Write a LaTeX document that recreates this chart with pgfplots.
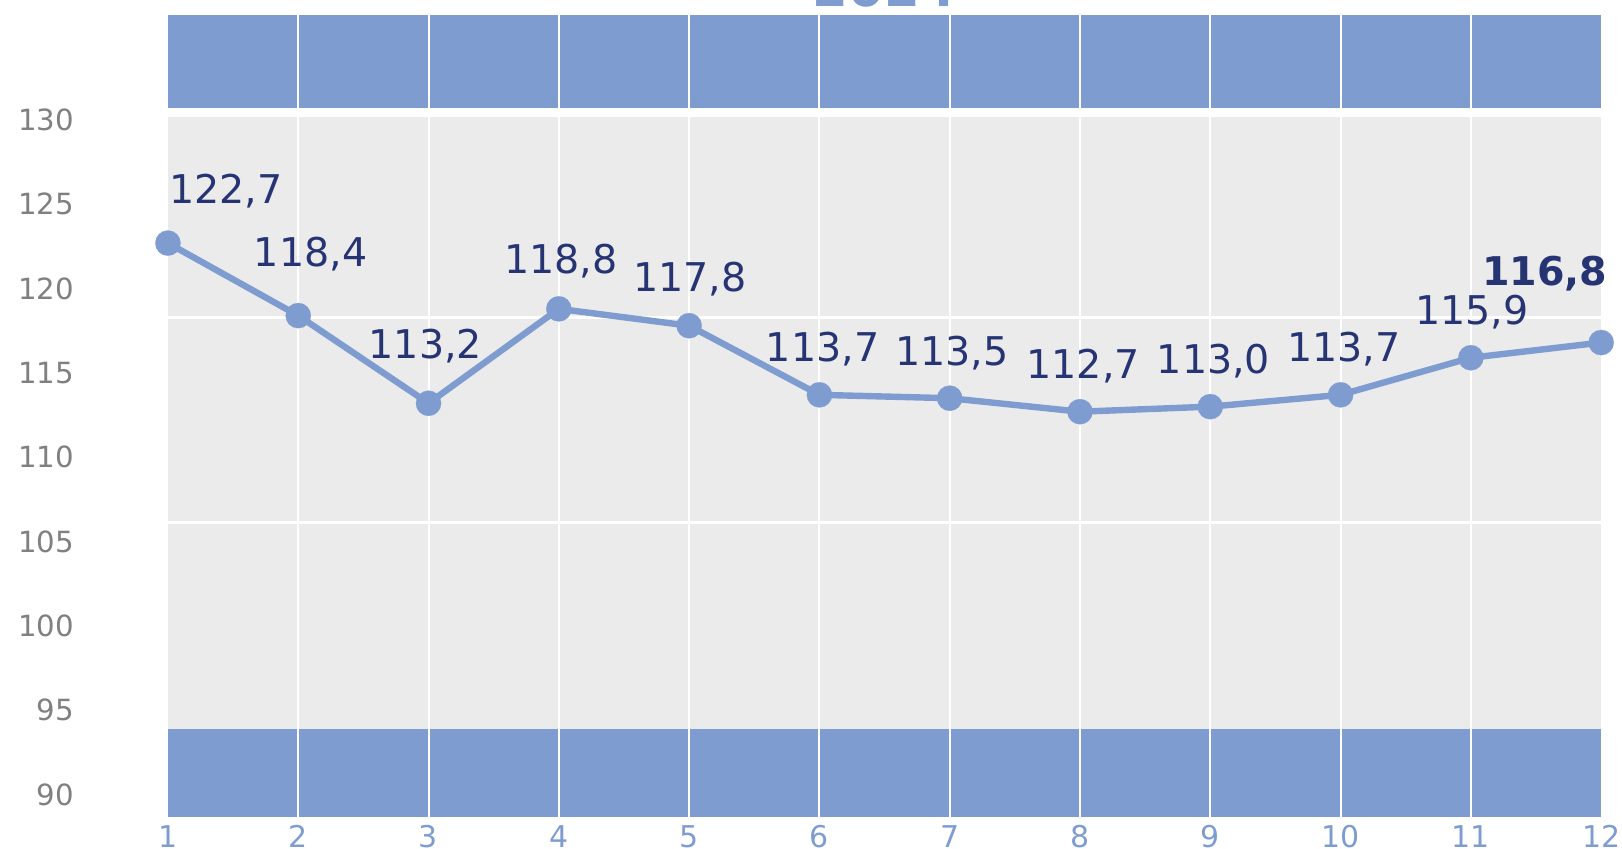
\documentclass[border=0pt]{standalone}
\usepackage{fontspec}
\setmainfont{DejaVu Sans}
\usepackage{pgfplots}
\usepackage{pgfplotstable}
\pgfplotsset{compat=1.18}
\definecolor{band}{RGB}{127,156,209}
\definecolor{bg}{RGB}{235,235,235}
\definecolor{navy}{RGB}{38,52,115}
\definecolor{tickgray}{RGB}{128,128,128}

\pgfplotstableread{
x y dx dy
1 122.7 29.0 19.6
2 118.4 6.2 24.8
3 113.2 -1.6 22.2
4 118.8 1.0 17.6
5 117.8 0.5 17.1
6 113.7 1.6 16.5
7 113.5 1.0 16.5
8 112.7 1.6 16.5
9 113.0 1.6 16.5
10 113.7 1.6 16.5
11 115.9 0.5 16.5
12 116.8 -28.2 28.4
}\data

\begin{document}
\begin{tikzpicture}
\begin{axis}[name=ax,
  x=65.15pt, y=8.43pt,
  xmin=-0.289, xmax=12.16, ymin=86.82, ymax=137.12,
  clip=false,
  axis line style={draw=none},
  tick style={draw=none},
  major tick length=0pt,
  xtick={1,...,12}, ytick={90,95,...,130},
  xticklabel style={anchor=north, inner sep=0pt, yshift=11.5pt, text=band, font=\fontsize{15}{18}\selectfont},
  yticklabel style={anchor=east, inner sep=0pt, xshift=37.25pt, text=tickgray, font=\fontsize{14.6}{17}\selectfont},
  /pgf/number format/assume math mode=true,
  title={2024},
  every axis title/.style={at={(0.5453,0.9928)}, anchor=base, inner sep=0pt, font=\fontsize{25.7}{30}\selectfont\bfseries, text=band},
]
% background bands
\addplot[fill=band, draw=none, mark=none, forget plot] coordinates {(1,88.68) (12,88.68) (12,93.86) (1,93.86)};
\addplot[fill=bg, draw=none, mark=none, forget plot] coordinates {(1,93.86) (12,93.86) (12,130.16) (1,130.16)};
\addplot[fill=band, draw=none, mark=none, forget plot] coordinates {(1,130.70) (12,130.70) (12,136.23) (1,136.23)};
% white grid lines
\pgfplotsinvokeforeach{2,...,11}{
  \addplot[white, line width=1pt, mark=none, forget plot] coordinates {(#1,88.68) (#1,136.23)};
}
\addplot[white, line width=1.3pt, mark=none, forget plot] coordinates {(1,118.28) (12,118.28)};
\addplot[white, line width=1.3pt, mark=none, forget plot] coordinates {(1,106.13) (12,106.13)};
% data line
\addplot[band, line width=3.2pt, mark=*, mark size=6.3pt, mark options={fill=band, draw=band, line width=0.1pt}] table[x=x,y=y]{\data};
% labels 1-11
\addplot[draw=none, mark=none, forget plot, restrict x to domain=0.5:11.5, point meta=y,
  nodes near coords,
  visualization depends on={\thisrow{dx}\as\myDX},
  visualization depends on={\thisrow{dy}\as\myDY},
  every node near coord/.append style={anchor=base, inner sep=0pt, xshift=\myDX pt, yshift=\myDY pt, text=navy,
    font=\fontsize{19.8}{23}\selectfont,
    /pgf/number format/fixed, /pgf/number format/fixed zerofill, /pgf/number format/precision=1, /pgf/number format/use comma, /pgf/number format/assume math mode=true},
] table[x=x,y=y]{\data};
% label 12 bold
\addplot[draw=none, mark=none, forget plot, restrict x to domain=11.5:12.5, point meta=y,
  nodes near coords,
  visualization depends on={\thisrow{dx}\as\myDX},
  visualization depends on={\thisrow{dy}\as\myDY},
  every node near coord/.append style={anchor=base, inner sep=0pt, xshift=\myDX pt, yshift=\myDY pt, text=navy,
    font=\fontsize{19.8}{23}\selectfont\bfseries,
    /pgf/number format/fixed, /pgf/number format/fixed zerofill, /pgf/number format/precision=1, /pgf/number format/use comma, /pgf/number format/assume math mode=true},
] table[x=x,y=y]{\data};
\end{axis}
\pgfresetboundingbox
\path[use as bounding box] (ax.south west) rectangle (ax.north east);
\end{tikzpicture}
\end{document}
